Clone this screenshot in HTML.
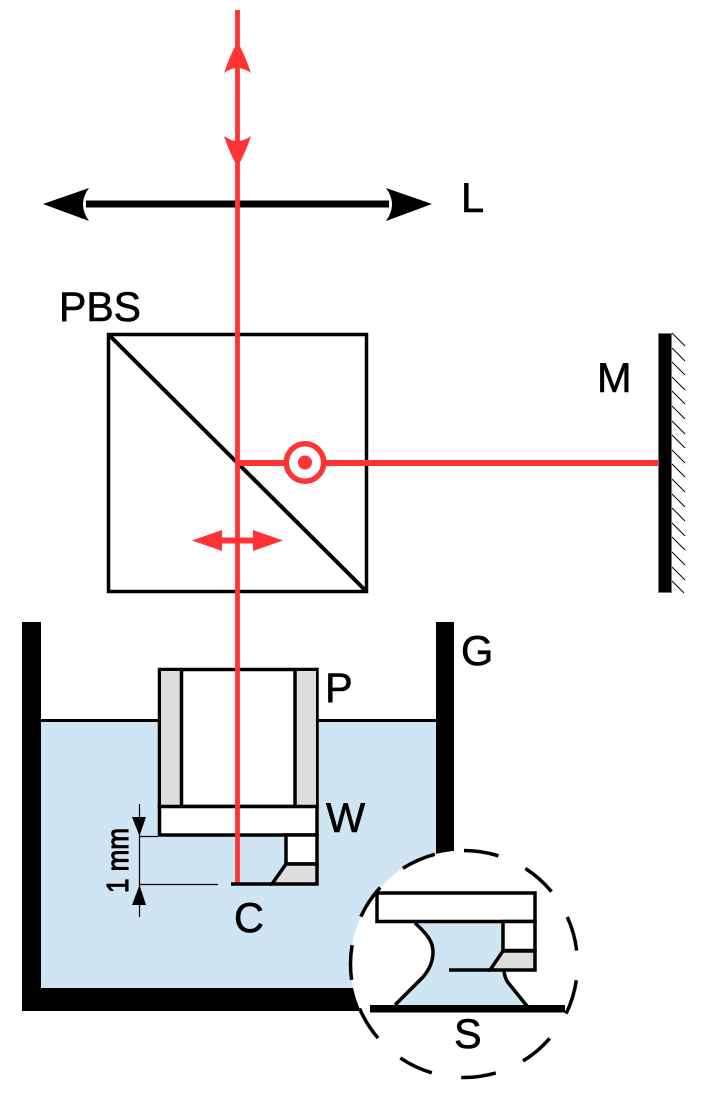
<!DOCTYPE html>
<html><head><meta charset="utf-8"><style>
html,body{margin:0;padding:0;background:#fff;width:707px;height:1098px;overflow:hidden}
svg{display:block}
text{font-family:"Liberation Sans",sans-serif;font-size:41.500px;fill:#000;stroke:#000;stroke-width:.6px}
</style></head><body>
<svg width="707" height="1098" viewBox="0 0 707 1098" xmlns="http://www.w3.org/2000/svg">
<!-- liquid -->
<rect x="41" y="721" width="395" height="268" fill="#cfe5f3"/>
<line x1="41" y1="720.500" x2="436" y2="720.500" stroke="#000" stroke-width="3"/>
<!-- container -->
<path d="M22 622H41V988H436V622H454V1011H22Z" fill="#000"/>
<!-- P -->
<rect x="159.500" y="669.500" width="157.500" height="137" fill="#fff" stroke="#000" stroke-width="3.500"/>
<rect x="161" y="671" width="20" height="134" fill="#dcdcdc"/>
<rect x="296" y="671" width="20" height="134" fill="#dcdcdc"/>
<line x1="181.500" y1="669" x2="181.500" y2="807" stroke="#000" stroke-width="3.500"/>
<line x1="295" y1="669" x2="295" y2="807" stroke="#000" stroke-width="3.500"/>
<!-- W -->
<rect x="159.500" y="806.500" width="157.500" height="28.500" fill="#fff" stroke="#000" stroke-width="3.500"/>
<!-- tip -->
<rect x="286" y="835" width="31" height="29" fill="#fff" stroke="#000" stroke-width="3.500"/>
<path d="M286 864H317V884H272Z" fill="#dcdcdc" stroke="#000" stroke-width="3.500"/>
<!-- dimension -->
<g stroke="#000" stroke-width="1.200" fill="none">
<line x1="139.500" y1="804" x2="139.500" y2="917"/>
<line x1="139" y1="836.500" x2="158" y2="836.500"/>
<line x1="139" y1="884.500" x2="218" y2="884.500"/>
</g>
<path d="M132 817H146L139.500 836Z M132 905H146L139.500 885Z" fill="#000"/>
<text transform="translate(128,893) rotate(-90)" style="font-size:31px;stroke-width:1.100px" textLength="65" lengthAdjust="spacingAndGlyphs">1 mm</text>
<!-- PBS -->
<rect x="108.500" y="334.500" width="258" height="257" fill="none" stroke="#000" stroke-width="3.500"/>
<line x1="109" y1="335" x2="366" y2="591" stroke="#000" stroke-width="4"/>
<!-- lens -->
<path d="M86 204H389" stroke="#000" stroke-width="7" fill="none"/>
<path d="M43 204L89 188Q77 204 89 221Z" fill="#000"/>
<path d="M432 204L386 188Q398 204 386 221Z" fill="#000"/>
<!-- red vertical -->
<line x1="237.500" y1="10" x2="237.500" y2="884" stroke="#ff3333" stroke-width="4.800"/>
<line x1="231" y1="884" x2="272" y2="884" stroke="#000" stroke-width="3.500"/>
<!-- red arrows -->
<path d="M237.500 42Q245 55 251 73Q237.500 63 224 73Q230 55 237.500 42Z" fill="#ff3333"/>
<path d="M237.500 167Q245 154 251 136Q237.500 146 224 136Q230 154 237.500 167Z" fill="#ff3333"/>
<!-- red horizontal -->
<line x1="237" y1="463" x2="659" y2="463" stroke="#ff3333" stroke-width="6"/>
<circle cx="305" cy="462.500" r="18.700" fill="#fff" stroke="#ff3333" stroke-width="5.500"/>
<circle cx="305" cy="462.500" r="7" fill="#ff3333"/>
<path d="M192 540.500L222 530V537.500H253V530L283 540.500L253 551V543.500H222V551Z" fill="#ff3333"/>
<!-- mirror -->
<rect x="658.500" y="333.500" width="13" height="259" fill="#000" stroke="#777" stroke-width="1"/>
<g stroke="#000" stroke-width="1">
<line x1="672" y1="333" x2="685" y2="346"/><line x1="672" y1="348" x2="685" y2="361"/><line x1="672" y1="362" x2="685" y2="375"/><line x1="672" y1="377" x2="685" y2="390"/><line x1="672" y1="391" x2="685" y2="404"/><line x1="672" y1="406" x2="685" y2="419"/><line x1="672" y1="421" x2="685" y2="434"/><line x1="672" y1="435" x2="685" y2="448"/><line x1="672" y1="450" x2="685" y2="463"/><line x1="672" y1="464" x2="685" y2="477"/><line x1="672" y1="479" x2="685" y2="492"/><line x1="672" y1="494" x2="685" y2="507"/><line x1="672" y1="508" x2="685" y2="521"/><line x1="672" y1="523" x2="685" y2="536"/><line x1="672" y1="537" x2="685" y2="550"/><line x1="672" y1="552" x2="685" y2="565"/><line x1="672" y1="567" x2="685" y2="580"/><line x1="672" y1="581" x2="684" y2="593"/>
</g>
<!-- magnified circle -->
<circle cx="464" cy="964" r="113.500" fill="#fff"/>
<path d="M415 923C428 935 433 942 433 952C433 962 429 970 423 977L395 1005H527L510 985C505 978 504 975 503 970V922Z" fill="#cfe5f3"/>
<path d="M415 923C428 935 433 942 433 952C433 962 429 970 423 977L395 1005" fill="none" stroke="#000" stroke-width="3.500"/>
<path d="M504 971C505 978 506 980 510 985L527 1006" fill="none" stroke="#000" stroke-width="3.500"/>
<rect x="377" y="893" width="158" height="28.500" fill="#fff" stroke="#000" stroke-width="3.500"/>
<rect x="503" y="921.500" width="32" height="29" fill="#fff" stroke="#000" stroke-width="3.500"/>
<path d="M503 951H535V970H490Z" fill="#dcdcdc" stroke="#000" stroke-width="3.500"/>
<line x1="449" y1="970" x2="490" y2="970" stroke="#000" stroke-width="3.500"/>
<rect x="370" y="1005" width="195" height="7.500" fill="#000"/>
<circle cx="464" cy="964" r="113.500" fill="none" stroke="#000" stroke-width="3.500" stroke-dasharray="35 29.840" transform="rotate(-90 464 964)"/>
<!-- labels -->
<text x="59" y="321" textLength="82" lengthAdjust="spacingAndGlyphs">PBS</text>
<text x="461" y="212">L</text>
<text x="597" y="392">M</text>
<text x="461" y="665">G</text>
<text x="325" y="702">P</text>
<text x="326" y="832">W</text>
<text x="234" y="932">C</text>
<text x="454" y="1048">S</text>
</svg>
</body></html>
